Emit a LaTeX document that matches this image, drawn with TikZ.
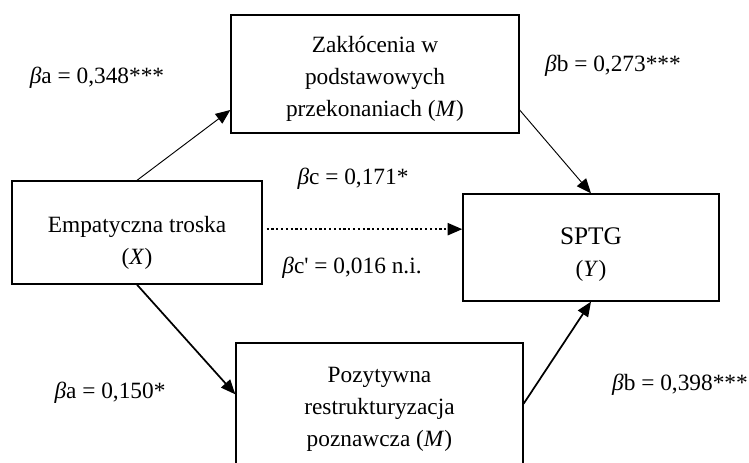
\documentclass[tikz,border=0pt]{standalone}
\usepackage{fontspec}
\setmainfont{Liberation Serif}
\usetikzlibrary{arrows.meta,calc}
\begin{document}
\begin{tikzpicture}[x=0.75pt,y=-0.75pt,
  box/.style={draw,line width=1pt,inner sep=0pt},
  txt/.style={align=center,inner sep=0pt,font=\fontsize{17.5}{24}\selectfont},
  lbl/.style={inner sep=0pt,font=\fontsize{17.5}{24}\selectfont},
  thinarr/.style={line width=0.7pt,-{Triangle[length=11pt,width=9pt]}},
  thickarr/.style={line width=1.3pt,-{Triangle[length=11pt,width=9pt]}},
  dotarr/.style={line width=1.6pt,dotted,-{Triangle[length=11pt,width=9pt]}}]
\useasboundingbox (0,0) rectangle (749,462);
\node[box,minimum width=216pt,minimum height=88.5pt] (M1) at (375,74) {};
\node[txt] (M1t) at (375,79) {Zakłócenia w\\podstawowych\\przekonaniach (\textit{M})};
\node[box,minimum width=187.5pt,minimum height=77.25pt] (X) at (137,232.5) {};
\node[txt] (Xt) at (137,243) {Empatyczna troska\\(\textit{X})};
\node[box,minimum width=192pt,minimum height=80.25pt] (Y) at (591,247.5) {};
\node[txt] (Yt) at (591,255) {\fontsize{19}{24}\selectfont SPTG\\(\textit{Y})};
\node[box,minimum width=215.25pt,minimum height=99pt] (M2) at (379.5,409) {};
\node[txt] (M2t) at (379.5,409) {Pozytywna\\restrukturyzacja\\poznawcza (\textit{M})};
\draw[thinarr] (X.north) -- ([yshift=-27pt]M1.west);
\draw[thinarr] ([yshift=-27pt]M1.east) -- (Y.north);
\draw[thickarr] (X.south) -- ([yshift=-39pt]M2.north west);
\draw[thickarr] ([yshift=-46pt]M2.north east) -- (Y.south);
\draw[dotarr] ([xshift=3pt,yshift=2.5pt]X.east) -- ([yshift=2.5pt]X.east -| Y.west);
\node[lbl] (la1) at (97,78) {\textit{β}a = 0,348***};
\node[lbl] (lb1) at (613,66) {\textit{β}b = 0,273***};
\node[lbl] (lc) at (353,179) {\textit{β}c = 0,171*};
\node[lbl] (lcp) at (352,268) {\textit{β}c\textquotesingle{} = 0,016 n.i.};
\node[lbl] (la2) at (110,393) {\textit{β}a = 0,150*};
\node[lbl] (lb2) at (680,385) {\textit{β}b = 0,398***};
\end{tikzpicture}
\end{document}
